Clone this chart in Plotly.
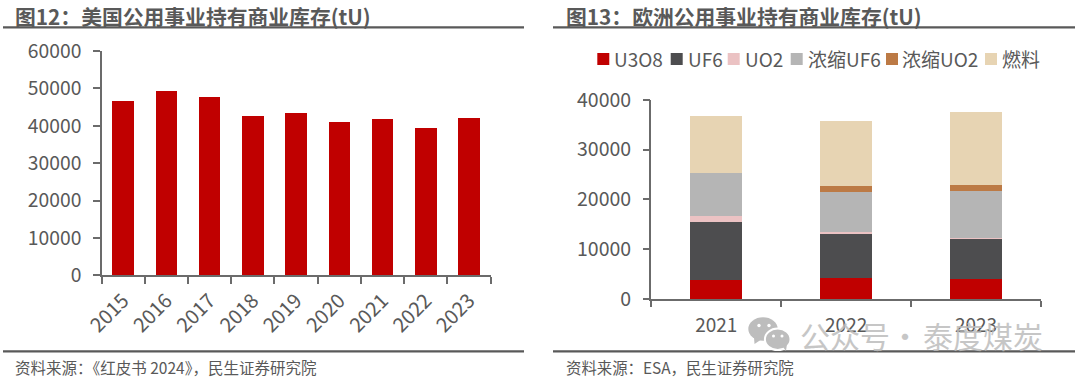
import plotly.graph_objects as go

W, H = 1080, 378
FONT = "Noto Sans CJK SC"
GREY = "#595959"
AXIS = "#6B6B6B"
MARK = "#BDBDBD"

us_years = ["2015", "2016", "2017", "2018", "2019", "2020", "2021", "2022", "2023"]
us_stock = [46550, 49200, 47600, 42600, 43300, 41000, 41700, 39400, 42200]

eu_years = ["2021", "2022", "2023"]
eu_u3o8 = [3900, 4300, 4050]
eu_uf6 = [11500, 9000, 8150]
eu_uo2 = [1200, 100, 50]
eu_euf6 = [8600, 8000, 9450]
eu_euo2 = [0, 1300, 1200]
eu_fuel = [11600, 12950, 14700]

series_names = ["U3O8", "UF6", "UO2", "浓缩UF6", "浓缩UO2", "燃料"]
series_colors = ["#C00000", "#4D4D4F", "#EBC2C3", "#B5B5B5", "#BC7A45", "#E7D4B3"]
series_values = [eu_u3o8, eu_uf6, eu_uo2, eu_euf6, eu_euo2, eu_fuel]


def px(x):
    return x / W


def py(y):
    return 1 - y / H


fig = go.Figure()
fig.add_trace(go.Bar(x=us_years, y=us_stock, marker=dict(color="#C00000", line_width=0),
                     width=0.5, xaxis="x", yaxis="y", showlegend=False))
for n, c, v in zip(series_names, series_colors, series_values):
    fig.add_trace(go.Bar(x=eu_years, y=v, name=n, marker=dict(color=c, line_width=0),
                         width=0.4, xaxis="x2", yaxis="y2", showlegend=False))

axis_common = dict(
    showgrid=False, zeroline=False, showline=True, linecolor=AXIS, linewidth=1.5,
    ticks="outside", ticklen=6.5, tickwidth=1.5, tickcolor=AXIS, automargin=False,
)
fig.update_layout(
    width=W, height=H, autosize=False, barmode="stack",
    margin=dict(l=0, r=0, t=0, b=0, pad=0),
    paper_bgcolor="white", plot_bgcolor="white",
    font=dict(family=FONT, color=GREY),
    xaxis=dict(axis_common, domain=[px(101.5), px(490.7)], anchor="y", type="category",
               tickson="boundaries", tickangle=-45, ticklabelstandoff=4,
               tickfont=dict(family=FONT, color=GREY, size=20)),
    yaxis=dict(axis_common, domain=[py(275.3), py(51)], anchor="x", range=[0, 60000],
               dtick=10000, tickformat="d", ticklabelstandoff=8,
               tickfont=dict(family=FONT, color=GREY, size=19.3)),
    xaxis2=dict(axis_common, domain=[px(651.3), px(1041)], anchor="y2", type="category",
                tickson="boundaries", ticklabelstandoff=8,
                tickfont=dict(family=FONT, color=GREY, size=19)),
    yaxis2=dict(axis_common, domain=[py(299), py(99.7)], anchor="x2", range=[0, 40000],
                dtick=10000, tickformat="d", ticklabelstandoff=8,
                tickfont=dict(family=FONT, color=GREY, size=19.5)),
)

shapes = []
annotations = []


def text(x, y, s, size, bold=False, color=GREY, anchor="left", opacity=1):
    annotations.append(dict(
        x=px(x), y=py(y), xref="paper", yref="paper", xanchor=anchor, yanchor="middle",
        text=f"<b>{s}</b>" if bold else s, showarrow=False, opacity=opacity,
        font=dict(family=FONT, size=size, color=color), borderpad=0, borderwidth=0,
    ))


# Panel titles, rules and sources
text(15, 15.5, "图12：美国公用事业持有商业库存(tU)", 20.8, True)
text(566, 15.5, "图13：欧洲公用事业持有商业库存(tU)", 20.8, True)
text(15, 367, "资料来源：《红皮书 2024》，民生证券研究院", 15.5)
text(565.5, 367, "资料来源：ESA，民生证券研究院", 15.4)
for x0, x1 in ((3, 524), (553, 1075)):
    for y in (27.3, 351.3):
        shapes.append(dict(type="line", xref="paper", yref="paper",
                           x0=px(x0), x1=px(x1), y0=py(y), y1=py(y),
                           line=dict(color=GREY, width=2.3)))

# Legend of the right panel
legend_swatch_x = [597.3, 670.7, 727.7, 790.7, 886, 985]
legend_text_x = [614.3, 688, 745.3, 807.7, 902.3, 1001.7]
for sx, tx, n, c in zip(legend_swatch_x, legend_text_x, series_names, series_colors):
    shapes.append(dict(type="rect", xref="paper", yref="paper", line_width=0, fillcolor=c,
                       x0=px(sx), x1=px(sx + 12), y0=py(65), y1=py(53)))
    text(tx, 59, n, 19)


# Watermark: speech-bubble icon and text
def bubble(cx, cy, rx, ry, fill, line=None):
    shapes.append(dict(type="circle", xref="paper", yref="paper", fillcolor=fill,
                       line=dict(width=2 if line else 0, color=line or fill),
                       x0=px(cx - rx), x1=px(cx + rx), y0=py(cy + ry), y1=py(cy - ry)))


def tail(pts):
    path = "M" + " L".join(f"{px(a):.5f},{py(b):.5f}" for a, b in pts) + " Z"
    shapes.append(dict(type="path", xref="paper", yref="paper", path=path,
                       fillcolor=MARK, line_width=0))


bubble(763, 329, 14.7, 11.7, MARK)
tail([(754, 337), (754.5, 344), (762, 339)])
bubble(777.7, 339.3, 12.8, 10.7, MARK, "white")
tail([(783, 347), (786, 351), (787, 344)])
for cx, cy, r in ((759, 325.5, 1.7), (769, 325.5, 1.7), (773.5, 336, 1.5), (782, 336, 1.5)):
    bubble(cx, cy, r, r, "white")

text(800, 335, "公众号", 30, color=MARK, opacity=0.85)
text(905, 335, "·", 30, color=MARK, anchor="center", opacity=0.85)
text(923, 335, "泰度煤炭", 30, color=MARK, opacity=0.85)

fig.update_layout(shapes=shapes, annotations=annotations)
fig.write_html("out.html", config={"displayModeBar": False},
               post_script="document.body.style.margin='0';document.body.style.overflow='hidden';")
